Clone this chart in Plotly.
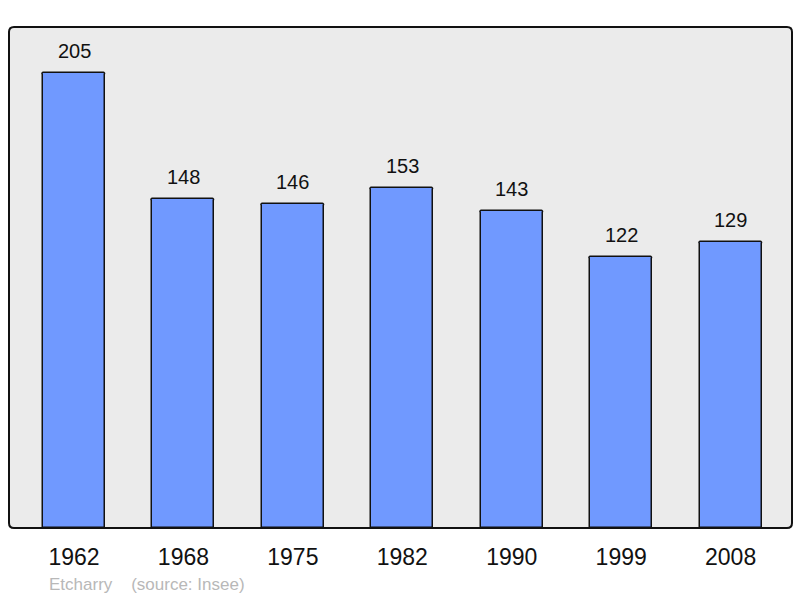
import plotly.graph_objects as go

years = ["1962", "1968", "1975", "1982", "1990", "1999", "2008"]
population = [205, 148, 146, 153, 143, 122, 129]

x_pos = list(range(len(years)))
FONT = "Liberation Sans, Arial, sans-serif"

fig = go.Figure()
fig.add_trace(go.Bar(
    x=x_pos, y=population, width=0.567,
    marker=dict(color="#7099ff", line=dict(color="#111111", width=1.5), cornerradius=2),
    hoverinfo="skip",
))

for xi, v in zip(x_pos, population):
    fig.add_annotation(x=xi, y=v, text=str(v), showarrow=False, yanchor="bottom",
                       yshift=9, font=dict(family=FONT, size=20, color="#111111"))

fig.add_annotation(xref="paper", yref="paper", x=(47 - 9) / 783, y=0,
                   text="Etcharry&nbsp;&nbsp;&nbsp;&nbsp;(source: Insee)",
                   showarrow=False, xanchor="left", yanchor="middle", yshift=-56,
                   font=dict(family=FONT, size=17, color="#b8b8b8"))

# rounded frame around the plot area (paper coords == plot domain)
rx, ry = 5 / 783, 5 / 501
path = (f"M {rx},0 L {1-rx},0 Q 1,0 1,{ry} L 1,{1-ry} Q 1,1 {1-rx},1 "
        f"L {rx},1 Q 0,1 0,{1-ry} L 0,{ry} Q 0,0 {rx},0 Z")
fig.add_shape(type="path", xref="paper", yref="paper", path=path,
              line=dict(color="#111111", width=2), layer="above")

fig.update_layout(
    width=800, height=598,
    margin=dict(l=9, r=8, t=27, b=70),
    paper_bgcolor="white", plot_bgcolor="#ebebeb",
    showlegend=False,
    bargap=0,
    xaxis=dict(range=[-0.594, 6.561], tickmode="array", tickvals=x_pos, ticktext=years,
               showgrid=False, zeroline=False, showline=False, ticks="",
               ticklabelstandoff=13,
               tickfont=dict(family=FONT, size=23, color="#111111")),
    yaxis=dict(range=[0, 225.7], showgrid=False, zeroline=False, showticklabels=False,
               showline=False, ticks=""),
)

fig.write_html("out.html", config={"displayModeBar": False},
               post_script="document.body.style.margin='0';")
